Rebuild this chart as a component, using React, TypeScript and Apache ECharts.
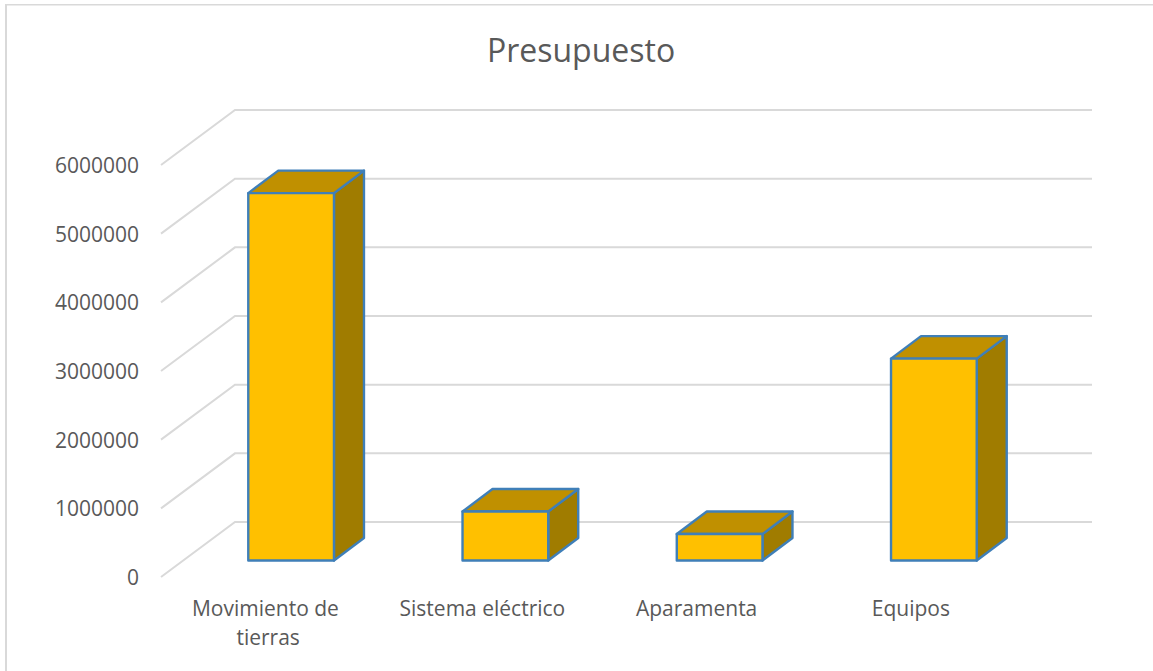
import React, { useEffect, useRef } from "react";
import * as echarts from "echarts";

const categories = ["Movimiento de tierras", "Sistema eléctrico", "Aparamenta", "Equipos"];
const budget = [5350000, 713000, 385000, 2940000];
const yTicks = [0, 1000000, 2000000, 3000000, 4000000, 5000000, 6000000];

const FONT = "'Open Sans', sans-serif";
const TEXT = "#595959";
const GRID = "#d9d9d9";
const EDGE = "#3f7fb8";

// Depth of the floor (px) and the bars' position within it
const WALL_DX = 74;
const WALL_DY = 55;
const BAR_X = 23;
const BAR_Y = 16.5;
const BAR_DX = 30;
const BAR_DY = 22.5;
const BAR_RATIO = 0.4;

export default function App() {
  const ref = useRef<HTMLDivElement>(null);
  useEffect(() => {
    const chart = echarts.init(ref.current!, undefined, { renderer: "svg" });
    chart.setOption({
      animation: false,
      backgroundColor: "#ffffff",
      title: {
        text: "Presupuesto",
        left: 581,
        top: 33,
        padding: 0,
        textAlign: "center",
        textStyle: { color: TEXT, fontFamily: FONT, fontSize: 32, fontWeight: "normal" },
      },
      graphic: [
        { type: "line", shape: { x1: 6, y1: 4, x2: 6, y2: 671 }, style: { stroke: GRID, lineWidth: 2 } },
        { type: "line", shape: { x1: 5, y1: 4.7, x2: 1153, y2: 4.7 }, style: { stroke: GRID, lineWidth: 1.4 } },
      ],
      grid: { left: 161, top: 165, width: 857, height: 412 },
      xAxis: {
        type: "category",
        data: categories,
        axisLine: { show: false },
        axisTick: { show: false },
        axisLabel: {
          interval: 0,
          margin: 16,
          color: TEXT,
          fontFamily: FONT,
          fontSize: 21,
          lineHeight: 29,
          width: 190,
          overflow: "break",
        },
      },
      yAxis: {
        type: "value",
        min: 0,
        max: 6000000,
        interval: 1000000,
        splitLine: { show: false },
        axisLine: { show: false },
        axisTick: { show: false },
        axisLabel: {
          margin: 22,
          color: TEXT,
          fontFamily: FONT,
          fontSize: 21,
          padding: [0, 0, 7, 0],
          formatter: (v: number) => String(v),
        },
      },
      series: [
        {
          type: "custom",
          z: 1,
          silent: true,
          data: yTicks.map((t) => [0, t]),
          encode: { y: 1 },
          renderItem: (params: any, api: any) => {
            const y = api.coord([0, api.value(1)])[1];
            const cs = params.coordSys;
            return {
              type: "polyline",
              shape: {
                points: [
                  [cs.x, y],
                  [cs.x + WALL_DX, y - WALL_DY],
                  [cs.x + cs.width + WALL_DX, y - WALL_DY],
                ],
              },
              style: { stroke: GRID, lineWidth: 2, fill: "none" },
            };
          },
        },
        {
          type: "custom",
          z: 2,
          silent: true,
          data: budget.map((v, i) => [i, v]),
          encode: { x: 0, y: 1 },
          renderItem: (_params: any, api: any) => {
            const cx = api.coord([api.value(0), 0])[0] + BAR_X;
            const base = api.coord([0, 0])[1] - BAR_Y;
            const top = api.coord([0, api.value(1)])[1] - BAR_Y;
            const half = (api.size([1, 0])[0] * BAR_RATIO) / 2;
            const l = cx - half;
            const r = cx + half;
            const stroke = { stroke: EDGE, lineWidth: 2.4, lineJoin: "round" };
            return {
              type: "group",
              children: [
                {
                  type: "polygon",
                  shape: { points: [[r, top], [r + BAR_DX, top - BAR_DY], [r + BAR_DX, base - BAR_DY], [r, base]] },
                  style: { fill: "#a07c00", ...stroke },
                },
                {
                  type: "polygon",
                  shape: { points: [[l, top], [l + BAR_DX, top - BAR_DY], [r + BAR_DX, top - BAR_DY], [r, top]] },
                  style: { fill: "#c09000", ...stroke },
                },
                {
                  type: "polygon",
                  shape: { points: [[l, top], [r, top], [r, base], [l, base]] },
                  style: { fill: "#ffc000", ...stroke },
                },
              ],
            };
          },
        },
      ],
    });
    return () => chart.dispose();
  }, []);
  return <div ref={ref} style={{ position: "absolute", left: 0, top: 0, width: 1153, height: 671 }} />;
}
